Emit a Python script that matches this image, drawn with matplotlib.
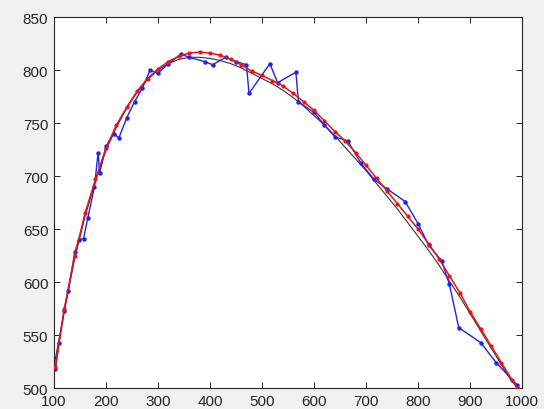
import matplotlib
matplotlib.use("Agg")
import matplotlib.pyplot as plt

plt.rcParams['font.family'] = ['Liberation Sans', 'DejaVu Sans']

# Noisy measured data (blue)
blue_x = [103, 110, 120, 128, 140, 148, 157, 165, 178, 185, 188, 200, 215, 225,
          240, 255, 270, 285, 300, 320, 345, 360, 390, 405, 430, 450, 470, 475,
          515, 530, 565, 570, 600, 620, 640, 665, 690, 715, 740, 775, 800, 820,
          845, 860, 878, 920, 950, 990]
blue_y = [518, 543, 573, 592, 628, 640, 641, 660, 690, 722, 703, 728, 740, 736,
          755, 770, 783, 800, 797, 806, 815, 812, 808, 805, 812, 808, 805, 778,
          806, 788, 798, 770, 760, 748, 737, 733, 712, 697, 688, 676, 655, 635,
          620, 598, 557, 543, 524, 503]

# Smoothed fit (red)
red_x = [103, 120, 140, 160, 180, 200, 220, 240, 260, 280, 300, 320, 340, 360,
         380, 400, 420, 440, 460, 480, 500, 520, 540, 560, 580, 600, 620, 640,
         660, 680, 700, 720, 740, 760, 780, 800, 820, 840, 860, 880, 900, 920,
         940, 960, 980, 990]
red_y = [520, 575, 625, 665, 697, 726, 748, 765, 780, 792, 801, 808, 813, 816,
         817, 816, 814, 810, 805, 799, 795, 790, 785, 778, 770, 762, 752, 742,
         733, 722, 710, 698, 686, 674, 662, 650, 636, 622, 606, 590, 572, 556,
         540, 524, 508, 500]

# Reference curve (black)
black_x = [100, 120, 140, 160, 180, 200, 220, 240, 260, 280, 300, 320, 340, 360,
           380, 400, 420, 440, 460, 480, 500, 520, 540, 560, 580, 600, 620, 640,
           660, 680, 700, 720, 740, 760, 780, 800, 820, 840, 860, 880, 900, 920,
           940, 960, 980, 995]
black_y = [520, 573, 622, 662, 695, 724, 746, 764, 779, 791, 800, 806, 810, 812,
           812, 811, 809, 806, 802, 797, 792, 787, 781, 774, 766, 757, 748, 738,
           727, 716, 705, 693, 681, 669, 656, 643, 630, 616, 601, 586, 570, 554,
           538, 522, 506, 500]

x_ticks = [100, 200, 300, 400, 500, 600, 700, 800, 900, 1000]
y_ticks = [500, 550, 600, 650, 700, 750, 800, 850]

fig = plt.figure(figsize=(5.44, 4.10), dpi=100, facecolor="#f0f0f0")
ax = fig.add_axes([0.099, 0.051, 0.861, 0.905])
ax.set_facecolor("white")

ax.plot(black_x, black_y, color="#333333", lw=0.8, zorder=2)
ax.plot(blue_x, blue_y, color="#2222ee", lw=1.0, marker="o", ms=2.2, zorder=3)
ax.plot(red_x, red_y, color="#ee1111", lw=1.1, marker="o", ms=2.0, zorder=4)

ax.set_xlim(100, 1000)
ax.set_ylim(500, 850)
ax.set_xticks(x_ticks)
ax.set_yticks(y_ticks)
ax.tick_params(direction="in", top=True, right=True, length=4, width=0.7,
               labelsize=11, colors="#262626", pad=4)
for s in ax.spines.values():
    s.set_color("#262626")
    s.set_linewidth(0.8)

fig.savefig("out.png", dpi=100, facecolor=fig.get_facecolor())
